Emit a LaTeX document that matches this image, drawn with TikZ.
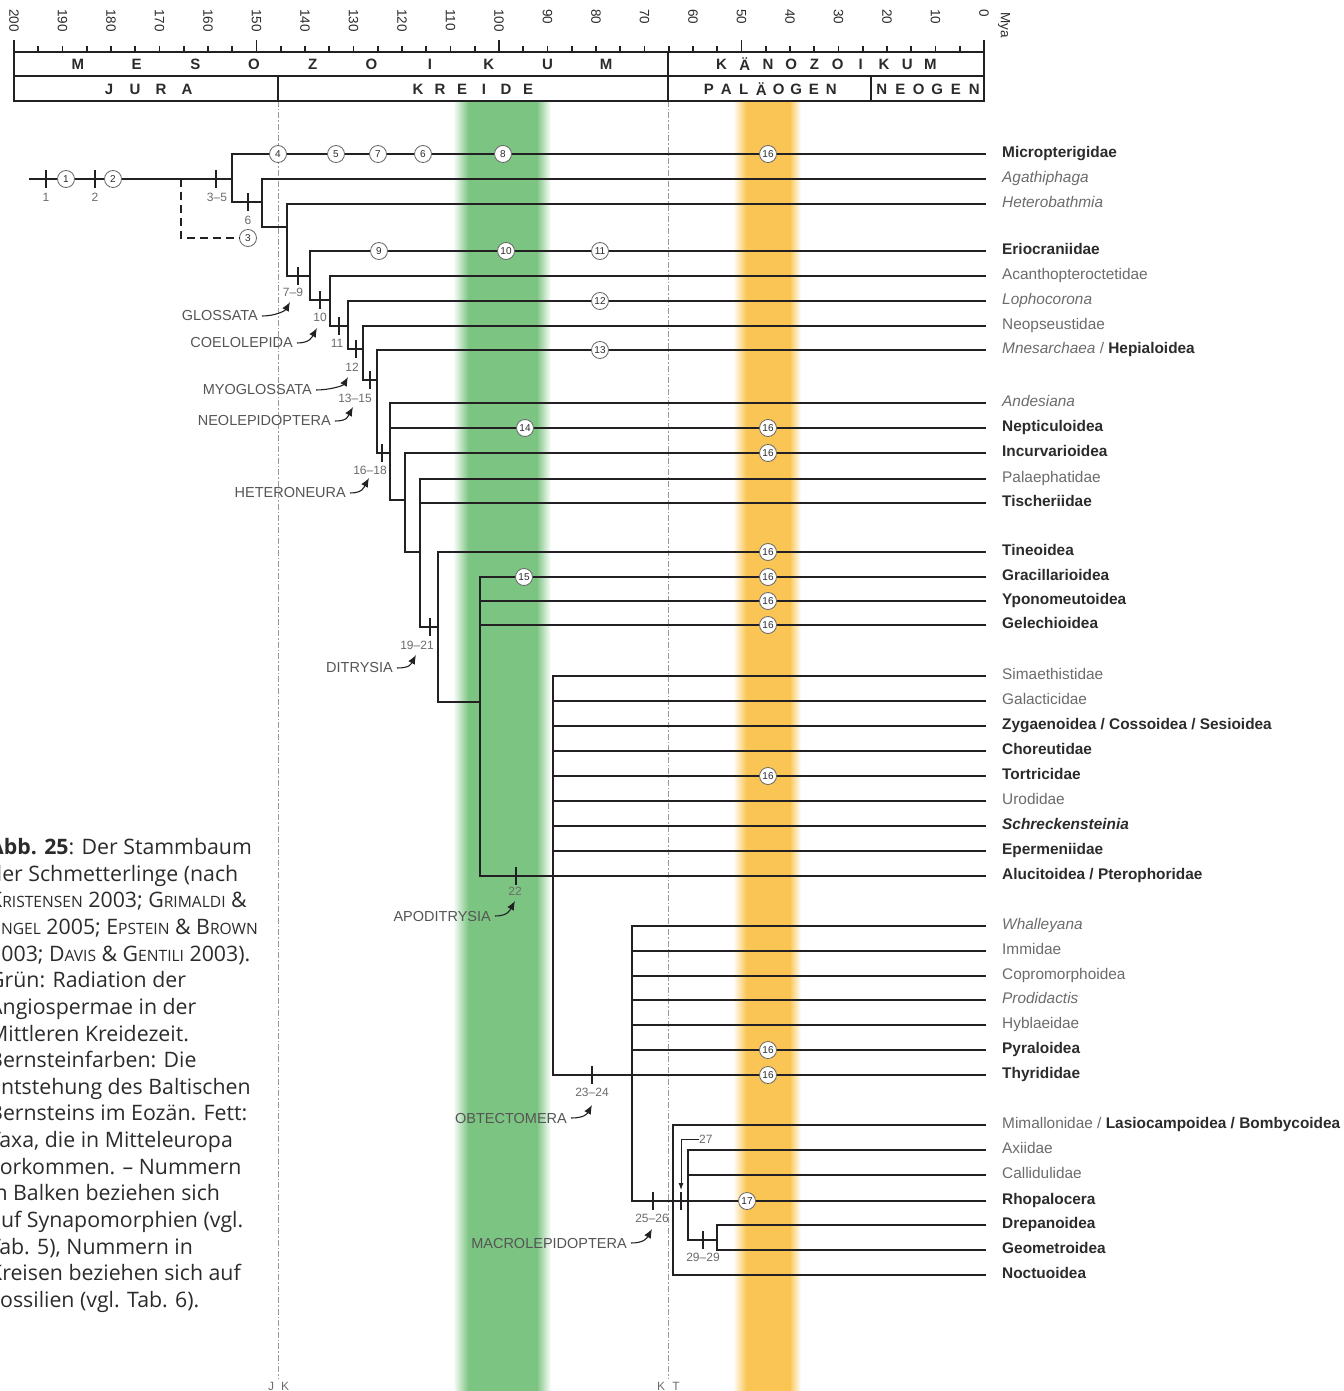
\documentclass[tikz,border=0pt]{standalone}
\usepackage{fontspec}
\setmainfont{Liberation Sans}
\newfontfamily\capfont{Open Sans}
\usetikzlibrary{arrows.meta}
\definecolor{ink}{HTML}{222022}
\definecolor{txtdark}{HTML}{2B2B2B}
\definecolor{txtgray}{HTML}{6B6B6B}
\definecolor{cladegray}{HTML}{555555}
\definecolor{bandgreen}{RGB}{124,196,130}
\definecolor{bandamber}{RGB}{250,197,84}
\definecolor{eragray}{HTML}{9A9A9A}

\newcommand\tB[1]{{\bfseries\color{txtdark}#1}}
\newcommand\tR[1]{{\color{txtgray}#1}}
\newcommand\tI[1]{{\itshape\color{txtgray}#1}}
\newcommand\tBI[1]{{\bfseries\itshape\color{txtdark}#1}}
\newcommand\Sc[2]{#1{\fontsize{15.6}{15.6}\selectfont #2}}

\tikzset{
  branch/.style={draw=ink, line width=2.6pt, line cap=rect},
  dashbranch/.style={draw=ink, line width=2.4pt, dash pattern=on 8pt off 5pt},
  synbar/.style={rectangle, fill=ink, draw=none, inner sep=0pt, minimum width=2.8pt, minimum height=18pt},
  synlabel/.style={font=\fontsize{12}{12}\selectfont, text=txtgray, inner sep=0pt},
  fossil/.style={circle, draw=gray!80!black, line width=0.8pt, fill=white, minimum size=17pt, inner sep=0pt, font=\fontsize{10}{10}\selectfont, text=txtdark},
  taxon/.style={anchor=west, inner sep=0pt, text height=11pt, text depth=3.5pt, font=\fontsize{15.4}{15.4}\selectfont},
  clade/.style={anchor=east, inner sep=0pt, font=\fontsize{14.5}{14.5}\selectfont, text=cladegray},
  cladearrow/.style={draw=ink, line width=1.1pt, -{Latex[length=9pt,width=7.5pt]}},
  thinarrow/.style={draw=ink, line width=0.9pt, -{Latex[length=7pt,width=5pt]}},
  eraline/.style={draw=eragray, line width=0.9pt, dash pattern=on 6pt off 2pt on 1.5pt off 2pt},
  boxline/.style={draw=ink, line width=1.9pt},
  rulertick/.style={draw=ink, line width=1.6pt},
  rulernum/.style={rotate=-90, anchor=west, inner sep=0pt, font=\fontsize{13.5}{13.5}\selectfont, text=txtdark},
  hdr/.style={inner sep=0pt, font=\fontsize{15}{15}\selectfont\bfseries, text=txtdark},
  eralabel/.style={inner sep=0pt, font=\fontsize{12}{12}\selectfont, text=txtgray},
  capstyle/.style={anchor=base west, inner sep=0pt, align=left, text=txtdark, font=\capfont\fontsize{21.3}{26.65}\selectfont},
}

\newcommand\taxon[4]{%
  \coordinate (#1-s) at (#2,#3);
  \coordinate (#1-e) at (985,#3);
  \node[taxon] (#1) at (1002,#3) {#4};
  \draw[branch] (#1-s) -- (#1-e);
}

\begin{document}
\begin{tikzpicture}[x=1pt,y=-1pt]
\useasboundingbox (0,0) rectangle (1343,1391);
\clip (0,0) rectangle (1343,1391);

% ---- coloured bands
\fill[bandgreen] (468,101) rectangle (537,1391);
\shade[left color=white,right color=bandgreen] (453,101) rectangle (468.5,1391);
\shade[left color=bandgreen,right color=white] (536.5,101) rectangle (551,1391);
\fill[bandamber] (746,101) rectangle (790,1391);
\shade[left color=white,right color=bandamber] (733,101) rectangle (746.5,1391);
\shade[left color=bandamber,right color=white] (789.5,101) rectangle (801,1391);

% ---- era boundaries
\coordinate (JKtop) at (278,101); \coordinate (JKbot) at (278,1378);
\coordinate (KTtop) at (668,101); \coordinate (KTbot) at (668,1378);
\draw[eraline] (JKtop) -- (JKbot);
\draw[eraline] (KTtop) -- (KTbot);
\node[eralabel] (jJ) at (271,1386) {J};
\node[eralabel] (jK) at (285,1386) {K};
\node[eralabel] (kK) at (661,1386) {K};
\node[eralabel] (kT) at (676,1386) {T};

% ---- time ruler
\foreach \age in {0,5,...,200} {
  \pgfmathsetmacro\xx{984-4.85*\age}
  \pgfmathtruncatemacro\rem{mod(\age,50)}
  \ifnum\rem=0 \draw[rulertick] (\xx,52) -- (\xx,40); \else \draw[rulertick] (\xx,52) -- (\xx,46); \fi
}
\foreach \age in {0,10,...,200} {
  \pgfmathsetmacro\xx{984-4.85*\age}
  \node[rulernum] (age\age) at (\xx,9) {\age};
}
\node[rulernum] (mya) at (1004,12) {Mya};

\draw[boxline] (14,52) rectangle (984,101);
\draw[boxline] (14,76) -- (984,76);
\draw[boxline] (668,52) -- (668,101);
\draw[boxline] (278,76) -- (278,101);
\draw[boxline] (871,76) -- (871,101);
\foreach \L [count=\i] in {M,E,S,O,Z,O,I,K,U,M} \node[hdr] (meso\i) at ({342+(\i-5.5)*58.7},64.5) {\L};
\foreach \L [count=\i] in {K,Ä,N,O,Z,O,I,K,U,M} \node[hdr] (kaeno\i) at ({826+(\i-5.5)*23.2},64.5) {\L};
\foreach \L [count=\i] in {J,U,R,A} \node[hdr] (jura\i) at ({148+(\i-2.5)*26},89) {\L};
\foreach \L [count=\i] in {K,R,E,I,D,E} \node[hdr] (kreide\i) at ({473+(\i-3.5)*22},89) {\L};
\foreach \L [count=\i] in {P,A,L,Ä,O,G,E,N} \node[hdr] (palaeo\i) at ({770+(\i-4.5)*17.5},89) {\L};
\foreach \L [count=\i] in {N,E,O,G,E,N} \node[hdr] (neo\i) at ({928+(\i-3.5)*18.5},89) {\L};

% ---- internal node coordinates
\foreach \n/\x/\ya/\yb in {A/232/154/202, B/262/179/227, C/287/204/276, D/310/251/300,
  E/330/276/326, F/348/301/349, G/363/326/380, H/377/350/453, I/390/403/500,
  J/405/453/552, K/420/479/627, L/438/552/702, M/480/577/876, N/553/676/1075,
  O/632/926/1201, P/673/1125/1275, Q/688/1150/1240, R/717/1225/1250}
  { \coordinate (\n1) at (\x,\ya); \coordinate (\n2) at (\x,\yb); }

% root and fossil stem
\coordinate (root) at (30,179);
\draw[branch] (root) -- (root -| A1);
\coordinate (dashtop) at (181,179);
\node[fossil] (f3) at (248,238) {3};
\draw[dashbranch] (dashtop) -- (dashtop |- f3) -- (f3.west);

% ladder
\draw[branch] (A1) -- (A2) -- (A2 -| B1);
\draw[branch] (B1) -- (B2) -- (B2 -| C1);
\draw[branch] (C1) -- (C2) -- (C2 -| D1);
\draw[branch] (D1) -- (D2) -- (D2 -| E1);
\draw[branch] (E1) -- (E2) -- (E2 -| F1);
\draw[branch] (F1) -- (F2) -- (F2 -| G1);
\draw[branch] (G1) -- (G2) -- (G2 -| H1);
\draw[branch] (H1) -- (H2) -- (H2 -| I1);
\draw[branch] (I1) -- (I2) -- (I2 -| J1);
\draw[branch] (J1) -- (J2) -- (J2 -| K1);
\draw[branch] (K1) -- (K2) -- (K2 -| L1);
\draw[branch] (L1) -- (L2) -- (L2 -| M1);
\draw[branch] (M1) -- (M2);
\draw[branch] (N1) -- (N2);
\draw[branch] (O1) -- (O2);
\draw[branch] (P1) -- (P2);
\draw[branch] (Q1) -- (Q2) -- (Q2 -| R1);
\draw[branch] (R1) -- (R2);

% ---- taxa
\taxon{micro}{232}{154}{\tB{Micropterigidae}}
\taxon{agath}{262}{179}{\tI{Agathiphaga}}
\taxon{heterob}{287}{204}{\tI{Heterobathmia}}
\taxon{erio}{310}{251}{\tB{Eriocraniidae}}
\taxon{acan}{330}{276}{\tR{Acanthopteroctetidae}}
\taxon{loph}{348}{301}{\tI{Lophocorona}}
\taxon{neops}{363}{326}{\tR{Neopseustidae}}
\taxon{mnes}{377}{350}{\tI{Mnesarchaea} \tR{/} \tB{Hepialoidea}}
\taxon{andes}{390}{403}{\tI{Andesiana}}
\taxon{nept}{390}{428}{\tB{Nepticuloidea}}
\taxon{incu}{405}{453}{\tB{Incurvarioidea}}
\taxon{palae}{420}{479}{\tR{Palaephatidae}}
\taxon{tisch}{420}{503}{\tB{Tischeriidae}}
\taxon{tineo}{438}{552}{\tB{Tineoidea}}
\taxon{graci}{480}{577}{\tB{Gracillarioidea}}
\taxon{ypono}{480}{601}{\tB{Yponomeutoidea}}
\taxon{gelec}{480}{625}{\tB{Gelechioidea}}
\taxon{simae}{553}{676}{\tR{Simaethistidae}}
\taxon{galac}{553}{701}{\tR{Galacticidae}}
\taxon{zygae}{553}{726}{\tB{Zygaenoidea / Cossoidea / Sesioidea}}
\taxon{chore}{553}{751}{\tB{Choreutidae}}
\taxon{tortr}{553}{776}{\tB{Tortricidae}}
\taxon{urodi}{553}{801}{\tR{Urodidae}}
\taxon{schre}{553}{826}{\tBI{Schreckensteinia}}
\taxon{eperm}{553}{851}{\tB{Epermeniidae}}
\taxon{aluci}{480}{876}{\tB{Alucitoidea / Pterophoridae}}
\taxon{whall}{632}{926}{\tI{Whalleyana}}
\taxon{immid}{632}{951}{\tR{Immidae}}
\taxon{copro}{632}{976}{\tR{Copromorphoidea}}
\taxon{prodi}{632}{1000}{\tI{Prodidactis}}
\taxon{hybla}{632}{1025}{\tR{Hyblaeidae}}
\taxon{pyral}{632}{1050}{\tB{Pyraloidea}}
\taxon{thyri}{553}{1075}{\tB{Thyrididae}}
\taxon{mimal}{673}{1125}{\tR{Mimallonidae /} \tB{Lasiocampoidea / Bombycoidea}}
\taxon{axiid}{688}{1150}{\tR{Axiidae}}
\taxon{calli}{688}{1175}{\tR{Callidulidae}}
\taxon{rhopa}{632}{1201}{\tB{Rhopalocera}}
\taxon{drepa}{717}{1225}{\tB{Drepanoidea}}
\taxon{geome}{717}{1250}{\tB{Geometroidea}}
\taxon{noctu}{673}{1275}{\tB{Noctuoidea}}

% ---- synapomorphy bars and labels
\foreach \n/\x/\y in {s1/46/179, s2/95/179, s35/216/179, s6/248/202, s79/298/276,
  s10/320/300, s11/339/326, s12/356/349, s1315/370/380, s1618/382/453, s1921/430/627,
  s22/516/876, s2324/592/1075, s2526/653/1201, s27/681/1201, s2929/703/1240}
  \node[synbar] (\n) at (\x,\y) {};
\foreach \n/\x/\y/\t in {l1/46/197/1, l2/95/197/2, l35/217/197/3–5, l6/248/220/6,
  l79/293/292/7–9, l10/320/317/10, l11/337/343/11, l12/352/367/12, l1315/355/398/13–15,
  l1618/370/470/16–18, l1921/417/645/19–21, l22/515/891/22, l2324/592/1092/23–24,
  l2526/652/1218/25–26, l2929/703/1257/29–29}
  \node[synlabel] (\n) at (\x,\y) {\t};
\node[synlabel, anchor=west] (l27) at (699,1139) {27};
\coordinate (t27) at (681,1190);
\draw[thinarrow] (l27.west) -| (t27);

% ---- fossils
\foreach \n/\x/\y/\t in {f1/66/179/1, f2/113/179/2, f4/278/154/4, f5/336/154/5, f7/378/154/7,
  f6/423/154/6, f8/503/154/8, f16a/768/154/16, f9/379/251/9, f10/506/251/10, f11/600/251/11,
  f12/600/301/12, f13/600/350/13, f14/525/428/14, f16b/768/428/16, f16c/768/453/16,
  f16d/768/552/16, f15/524/577/15, f16e/768/577/16, f16f/768/601/16, f16g/768/625/16,
  f16h/768/776/16, f16i/768/1050/16, f16j/768/1075/16, f17/747/1201/17}
  \node[fossil] (\n) at (\x,\y) {\t};

% ---- clade names
\foreach \n/\x/\y/\tx/\ty/\t in {glossata/258/316/290/302/GLOSSATA,
  coelolepida/293/343/317/328/COELOLEPIDA, myoglossata/312/390/348/377/MYOGLOSSATA,
  neolepidoptera/331/421/353/407/NEOLEPIDOPTERA, heteroneura/346/493/369/478/HETERONEURA,
  ditrysia/393/668/416/655/DITRYSIA, apoditrysia/491/916/515/901/APODITRYSIA,
  obtectomera/567/1118/592/1105/OBTECTOMERA, macrolepidoptera/627/1243/652/1229/MACROLEPIDOPTERA}
  {
  \node[clade] (\n) at (\x,\y) {\t};
  \coordinate (\n-tip) at (\tx,\ty);
  \draw[cladearrow] ([xshift=4pt]\n.east) .. controls +(13,0) and +(-5,9) .. (\n-tip);
  }

% ---- caption (left edge cut by the picture border, as in the reference)
\node[capstyle] (caption) at (-11,1307.5) {{\bfseries Abb. 25}: Der Stammbaum\\
der Schmetterlinge (nach\\
\Sc{K}{RISTENSEN} 2003; \Sc{G}{RIMALDI} \&\\
\Sc{E}{NGEL} 2005; \Sc{E}{PSTEIN} \& \Sc{B}{ROWN}\\
2003; \Sc{D}{AVIS} \& \Sc{G}{ENTILI} 2003).\\
Grün: Radiation der\\
Angiospermae in der\\
Mittleren Kreidezeit.\\
Bernsteinfarben: Die\\
Entstehung des Baltischen\\
Bernsteins im Eozän. Fett:\\
Taxa, die in Mitteleuropa\\
vorkommen. – Nummern\\
in Balken beziehen sich\\
auf Synapomorphien (vgl.\\
Tab. 5), Nummern in\\
Kreisen beziehen sich auf\\
Fossilien (vgl. Tab. 6).};
\end{tikzpicture}
\end{document}
